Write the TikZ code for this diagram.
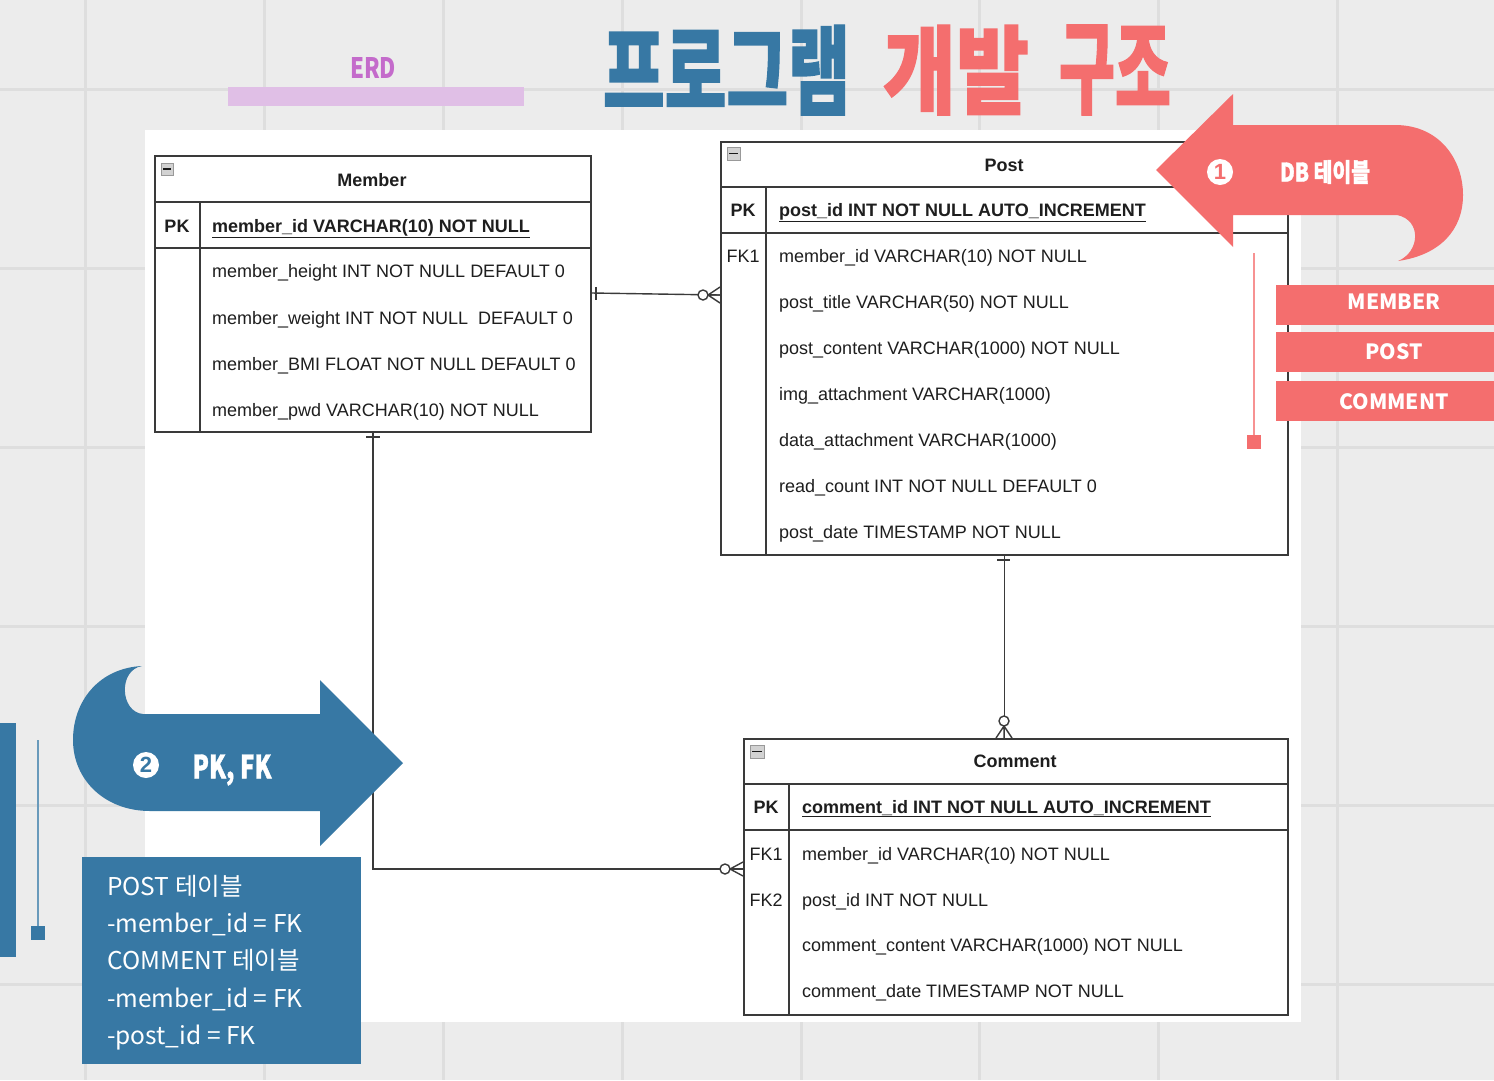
\documentclass[tikz,border=0pt]{standalone}
\usepackage{fontspec}
\usepackage{graphicx}
\setmainfont{Liberation Sans}
\newfontfamily\cjk{Noto Sans CJK KR}
\newfontfamily\cjkheavy{Noto Sans CJK KR}[FakeBold=1.5]
\definecolor{tblue}{HTML}{3778A4}
\definecolor{coral}{HTML}{F46E6E}
\definecolor{lav}{HTML}{E0BFE6}
\definecolor{erdc}{HTML}{C46BCB}
\definecolor{bgc}{HTML}{ECECEC}
\definecolor{gridc}{HTML}{DEDEDE}
\definecolor{tblc}{HTML}{3A3A3A}
\definecolor{txtc}{HTML}{1E1E1E}
\tikzset{
  gridl/.style={draw=gridc, line width=3pt},
  tbl/.style={draw=tblc, line width=1.6pt},
  tblbox/.style={tbl, fill=white, inner sep=0, anchor=north west},
  conn/.style={draw=tblc, line width=1.4pt},
  rowtxt/.style={anchor=base west, inner sep=0, text=txtc, font=\fontsize{18}{22}\selectfont},
  pktxt/.style={anchor=base west, inner sep=0, text=txtc, font=\bfseries\fontsize{18}{22}\selectfont},
  keytxt/.style={anchor=base, inner sep=0, text=txtc, font=\fontsize{18}{22}\selectfont},
  pkkey/.style={anchor=base, inner sep=0, text=txtc, font=\bfseries\fontsize{18}{22}\selectfont},
  hdrtxt/.style={anchor=base, inner sep=0, text=txtc, font=\bfseries\fontsize{18}{22}\selectfont},
  icon/.style={draw=gray!80, fill=gray!35, line width=0.8pt},
  labbox/.style={fill=coral, draw=none, inner sep=0, anchor=north west, minimum width=218pt, minimum height=40pt},
  labtxt/.style={text=white, inner sep=0, font=\cjk\bfseries\fontsize{21}{24}\selectfont},
  boxtxt/.style={anchor=base west, inner sep=0, text=white, font=\cjk\fontsize{24.5}{30}\selectfont},
  numdisc/.style={circle, fill=white, inner sep=0, minimum size=26pt, font=\bfseries\fontsize{22}{22}\selectfont},
}
\begin{document}
\begin{tikzpicture}[x=1pt,y=-1pt]
\useasboundingbox (0,0) rectangle (1494,1080);
\fill[bgc] (0,0) rectangle (1494,1080);
\foreach \gx in {85,264,443,622,801,979,1158,1337} \draw[gridl] (\gx,0) -- (\gx,1080);
\foreach \gy in {89,268,447,626,805,984} \draw[gridl] (0,\gy) -- (1494,\gy);
\fill[white] (145,130) rectangle (1301,1022);

% title
\node[inner sep=0, text=tblue] (t1) at (726.5,70) {\resizebox*{247pt}{90pt}{\cjkheavy\bfseries 프로그램}};
\node[inner sep=0, text=coral] (t2) at (956,70) {\resizebox*{146pt}{90pt}{\cjkheavy\bfseries 개발}};
\node[inner sep=0, text=coral] (t3) at (1115,70) {\resizebox*{112pt}{90pt}{\cjkheavy\bfseries 구조}};

% ERD label
\fill[lav] (228,87) rectangle (524,106);
\node[text=erdc, inner sep=0] (erd) at (373,68) {\resizebox*{46pt}{21pt}{\cjk\bfseries ERD}};

% ===== Member table =====
\node[tblbox, minimum width=436pt, minimum height=276pt] (member) at (154,155) {};
\draw[tbl] (154,202) -- (590,202);
\draw[tbl] (154,248) -- (590,248);
\draw[tbl] (200,202) -- (200,431);
\filldraw[icon] (161,163) rectangle (173,175);
\draw[gray!20!black, line width=1.5pt] (163,169) -- (171,169);
\node[hdrtxt] (mh) at (372,186) {Member};
\node[pkkey] (mpk) at (177,232) {PK};
\node[pktxt] (mpkt) at (212,232) {\underline{member\_id VARCHAR(10) NOT NULL}};
\node[rowtxt] (m1) at (212,277) {member\_height INT NOT NULL DEFAULT 0};
\node[rowtxt] (m2) at (212,324) {member\_weight INT NOT NULL\ \ DEFAULT 0};
\node[rowtxt] (m3) at (212,370) {member\_BMI FLOAT NOT NULL DEFAULT 0};
\node[rowtxt] (m4) at (212,416) {member\_pwd VARCHAR(10) NOT NULL};

% ===== Post table =====
\node[tblbox, minimum width=567pt, minimum height=413pt] (post) at (720,141) {};
\draw[tbl] (720,187) -- (1287,187);
\draw[tbl] (720,233) -- (1287,233);
\draw[tbl] (766,187) -- (766,554);
\filldraw[icon] (727,147) rectangle (740,160);
\draw[gray!20!black, line width=1.5pt] (729,153.5) -- (738,153.5);
\node[hdrtxt] (ph) at (1004,171) {Post};
\node[pkkey] (ppk) at (743,216) {PK};
\node[pktxt] (ppkt) at (779,216) {\underline{post\_id INT NOT NULL AUTO\_INCREMENT}};
\node[keytxt] (pfk) at (743,262) {FK1};
\node[rowtxt] (p1) at (779,262) {member\_id VARCHAR(10) NOT NULL};
\node[rowtxt] (p2) at (779,308) {post\_title VARCHAR(50) NOT NULL};
\node[rowtxt] (p3) at (779,354) {post\_content VARCHAR(1000) NOT NULL};
\node[rowtxt] (p4) at (779,400) {img\_attachment VARCHAR(1000)};
\node[rowtxt] (p5) at (779,446) {data\_attachment VARCHAR(1000)};
\node[rowtxt] (p6) at (779,492) {read\_count INT NOT NULL DEFAULT 0};
\node[rowtxt] (p7) at (779,538) {post\_date TIMESTAMP NOT NULL};

% ===== Comment table =====
\node[tblbox, minimum width=544pt, minimum height=276pt] (comment) at (743,738) {};
\draw[tbl] (743,784) -- (1287,784);
\draw[tbl] (743,830) -- (1287,830);
\draw[tbl] (789,784) -- (789,1014);
\filldraw[icon] (750,745) rectangle (764,758);
\draw[gray!20!black, line width=1.5pt] (752,751.5) -- (762,751.5);
\node[hdrtxt] (ch) at (1015,767) {Comment};
\node[pkkey] (cpk) at (766,813) {PK};
\node[pktxt] (cpkt) at (802,813) {\underline{comment\_id INT NOT NULL AUTO\_INCREMENT}};
\node[keytxt] (cfk1) at (766,860) {FK1};
\node[keytxt] (cfk2) at (766,906) {FK2};
\node[rowtxt] (c1) at (802,860) {member\_id VARCHAR(10) NOT NULL};
\node[rowtxt] (c2) at (802,906) {post\_id INT NOT NULL};
\node[rowtxt] (c3) at (802,951) {comment\_content VARCHAR(1000) NOT NULL};
\node[rowtxt] (c4) at (802,997) {comment\_date TIMESTAMP NOT NULL};

% ===== connectors =====
% Member -> Post
\draw[conn] (member.east |- 0,293) -- (post.west |- 0,295);
\draw[conn] (596,287) -- (596,300);
\draw[conn, fill=white] (703,295) circle (5);
\draw[conn] (708,295) -- (720,287) (708,295) -- (720,295) (708,295) -- (720,303);
% Member -> Comment
\draw[conn] (member.south) |- (comment.west |- 0,869);
\draw[conn] (366,437) -- (380,437);
\draw[conn, fill=white] (725,869) circle (5);
\draw[conn] (730,869) -- (743,862) (730,869) -- (743,869) (730,869) -- (743,876);
% Post -> Comment
\draw[conn] (post.south) -- (post.south |- comment.north);
\draw[conn] (997,560) -- (1010,560);
\draw[conn, fill=white] (1004,721) circle (5);
\draw[conn] (1004,726) -- (996,738) (1004,726) -- (1004,738) (1004,726) -- (1012,738);

% ===== coral arrow =====
\fill[coral] (1156,170) -- (1233,94) -- (1233,125) -- (1395,125)
  .. controls (1440,125) and (1463,160) .. (1463,195)
  .. controls (1463,230) and (1440,255) .. (1398,261)
  .. controls (1420,252) and (1422,220) .. (1397,215)
  -- (1233,215) -- (1233,247) -- cycle;
\node[numdisc, text=coral] (n1) at (1220,172) {1};
\node[inner sep=0, text=white] (db) at (1325,172) {\resizebox*{90pt}{24pt}{\cjkheavy\bfseries DB 테이블}};

% coral line + square
\draw[coral!75, line width=2pt] (1254,253) -- (1254,437);
\fill[coral] (1247,435) rectangle (1261,449);

% coral labels
\node[labbox] (lb1) at (1276,285) {};
\node[labbox] (lb2) at (1276,332) {};
\node[labbox] (lb3) at (1276,381) {};
\node[labtxt] (lt1) at (1394,302) {MEMBER};
\node[labtxt] (lt2) at (1394,352) {POST};
\node[labtxt] (lt3) at (1394,402) {COMMENT};

% ===== blue arrow =====
\fill[tblue] (403,763) -- (320,680) -- (320,714) -- (143,714)
  .. controls (120,712) and (118,670) .. (142,666)
  .. controls (100,668) and (73,700) .. (73,740)
  .. controls (73,780) and (105,811) .. (150,811)
  -- (320,811) -- (320,846) -- cycle;
\node[numdisc, text=tblue] (n2) at (146,765) {2};
\node[inner sep=0, text=white] (pkfk) at (232,770) {\resizebox*{79pt}{31pt}{\cjkheavy\bfseries PK, FK}};

% left bar, line, square
\fill[tblue] (0,723) rectangle (16,957);
\draw[tblue!75, line width=2pt] (38,740) -- (38,928);
\fill[tblue] (31,926) rectangle (45,940);

% blue info box
\fill[tblue] (82,857) rectangle (361,1064);
\node[boxtxt] (b1) at (107,895) {POST 테이블};
\node[boxtxt] (b2) at (107,932) {-member\_id = FK};
\node[boxtxt] (b3) at (107,969) {COMMENT 테이블};
\node[boxtxt] (b4) at (107,1007) {-member\_id = FK};
\node[boxtxt] (b5) at (107,1044) {-post\_id = FK};
\end{tikzpicture}
\end{document}
